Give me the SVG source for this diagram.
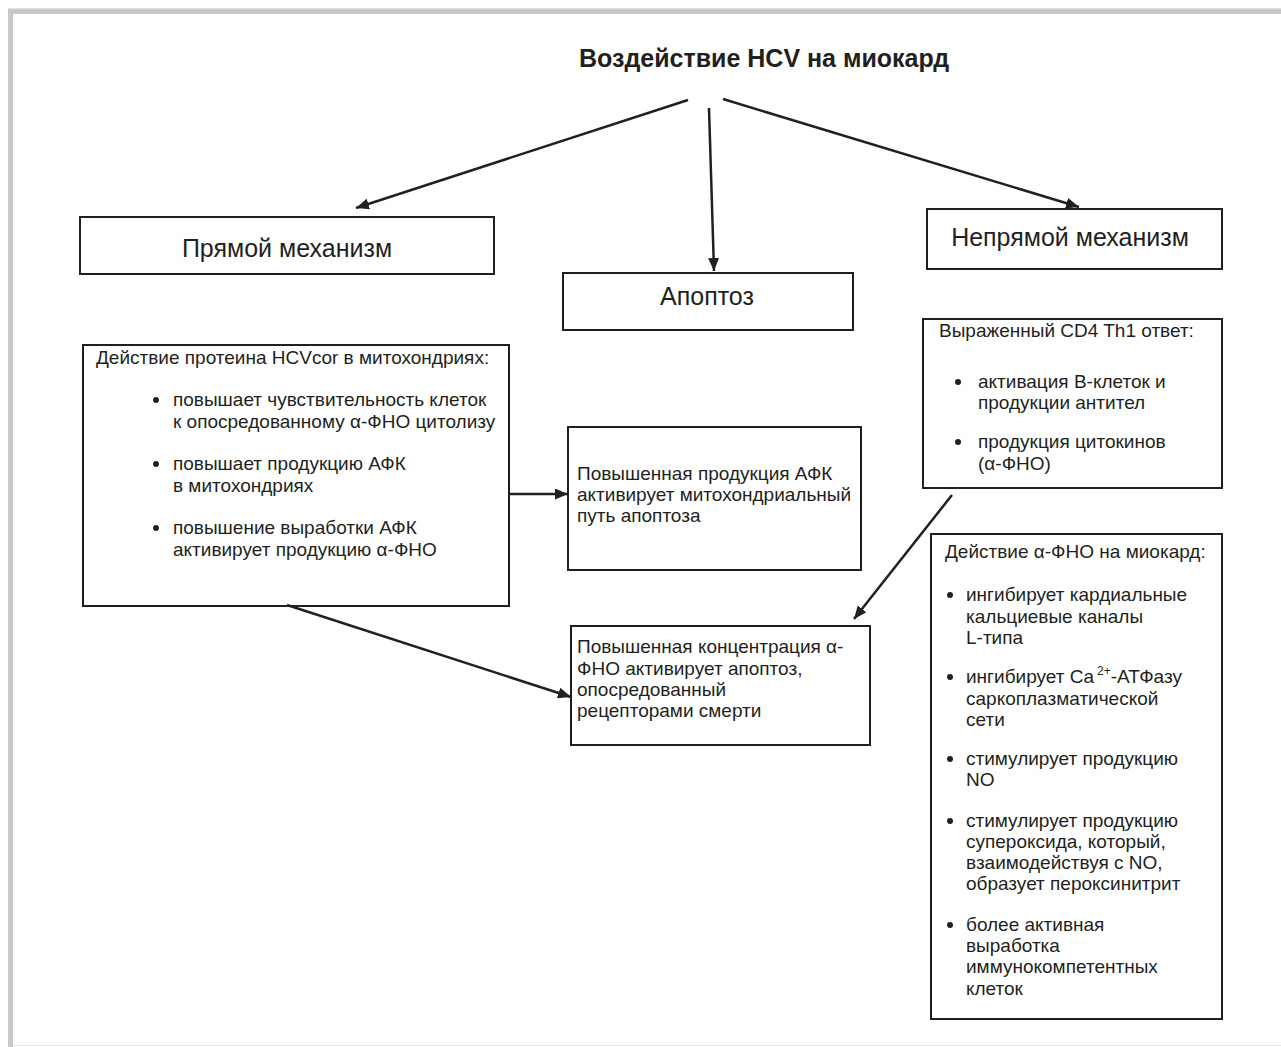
<svg xmlns="http://www.w3.org/2000/svg" width="1281" height="1047" viewBox="0 0 1281 1047">
  <style>
    .box { fill: #ffffff; stroke: #231f20; stroke-width: 2; }
    .t { font-family: "Liberation Sans", Arial, sans-serif; font-size: 19px; fill: #231f20; }
    .lbl { font-family: "Liberation Sans", Arial, sans-serif; font-size: 25px; fill: #231f20; }
    .title { font-family: "Liberation Sans", Arial, sans-serif; font-size: 25px; font-weight: bold; fill: #231f20; }
    .dot { fill: #231f20; }
    .conn { stroke: #231f20; stroke-width: 2.5; fill: none; marker-end: url(#ah); }
  </style>
  <defs>
    <marker id="ah" markerUnits="userSpaceOnUse" viewBox="0 0 13 11" markerWidth="13" markerHeight="11" refX="13" refY="5.5" orient="auto">
      <path d="M0,0 L13,5.5 L0,11 z" fill="#231f20"/>
    </marker>
  </defs>

  <!-- page background and frame -->
  <rect x="0" y="0" width="1281" height="1047" fill="#ffffff"/>
  <rect x="8" y="8" width="1273" height="1" fill="#e2e2e2"/>
  <rect x="8" y="9" width="1273" height="5" fill="#c8c8c8"/>
  <rect x="8" y="9" width="5" height="1038" fill="#c8c8c8"/>
  <rect x="13" y="1045" width="1268" height="1" fill="#e6e6e6"/>

  <!-- title -->
  <g id="title">
    <text class="title" x="764" y="67" text-anchor="middle">Воздействие HCV на миокард</text>
  </g>

  <g id="direct">
    <rect class="box" x="80" y="217" width="414" height="57"/>
    <text class="lbl" x="287" y="257" text-anchor="middle">Прямой механизм</text>
  </g>

  <g id="apoptosis">
    <rect class="box" x="563" y="273" width="290" height="57"/>
    <text class="lbl" x="707" y="305" text-anchor="middle">Апоптоз</text>
  </g>

  <g id="indirect">
    <rect class="box" x="927" y="209" width="295" height="60"/>
    <text class="lbl" x="1070" y="246" text-anchor="middle">Непрямой механизм</text>
  </g>

  <g id="hcvcor">
    <rect class="box" x="83" y="345" width="426" height="261"/>
    <text class="t" x="96" y="364">Действие протеина HCVcor в митохондриях:</text>
    <circle class="dot" cx="156" cy="400" r="3"/>
    <text class="t" x="173" y="406">повышает чувствительность клеток</text>
    <text class="t" x="173" y="428">к опосредованному α-ФНО цитолизу</text>
    <circle class="dot" cx="156" cy="464" r="3"/>
    <text class="t" x="173" y="470">повышает продукцию АФК</text>
    <text class="t" x="173" y="492">в митохондриях</text>
    <circle class="dot" cx="156" cy="528" r="3"/>
    <text class="t" x="173" y="534">повышение выработки АФК</text>
    <text class="t" x="173" y="556">активирует продукцию α-ФНО</text>
  </g>

  <g id="ros">
    <rect class="box" x="568" y="427" width="293" height="143"/>
    <text class="t" x="577" y="480">Повышенная продукция АФК</text>
    <text class="t" x="577" y="501">активирует митохондриальный</text>
    <text class="t" x="577" y="522">путь апоптоза</text>
  </g>

  <g id="tnf-conc">
    <rect class="box" x="571" y="626" width="299" height="119"/>
    <text class="t" x="577" y="653">Повышенная концентрация α-</text>
    <text class="t" x="577" y="675">ФНО активирует апоптоз,</text>
    <text class="t" x="577" y="696">опосредованный</text>
    <text class="t" x="577" y="717">рецепторами смерти</text>
  </g>

  <g id="th1">
    <rect class="box" x="923" y="319" width="299" height="169"/>
    <text class="t" x="939" y="337">Выраженный CD4 Th1 ответ:</text>
    <circle class="dot" cx="958" cy="382" r="3"/>
    <text class="t" x="978" y="388">активация В-клеток и</text>
    <text class="t" x="978" y="409">продукции антител</text>
    <circle class="dot" cx="958" cy="442" r="3"/>
    <text class="t" x="978" y="448">продукция цитокинов</text>
    <text class="t" x="978" y="470">(α-ФНО)</text>
  </g>

  <g id="tnf-myocard">
    <rect class="box" x="931" y="534" width="291" height="485"/>
    <text class="t" x="945" y="558">Действие α-ФНО на миокард:</text>
    <circle class="dot" cx="950" cy="595" r="3"/>
    <text class="t" x="966" y="601">ингибирует кардиальные</text>
    <text class="t" x="966" y="623">кальциевые каналы</text>
    <text class="t" x="966" y="644">L-типа</text>
    <circle class="dot" cx="950" cy="677" r="3"/>
    <text class="t" x="966" y="683">ингибирует Ca<tspan font-size="12" dx="3" dy="-8">2+</tspan><tspan dy="8">-АТФазу</tspan></text>
    <text class="t" x="966" y="705">саркоплазматической</text>
    <text class="t" x="966" y="726">сети</text>
    <circle class="dot" cx="950" cy="759" r="3"/>
    <text class="t" x="966" y="765">стимулирует продукцию</text>
    <text class="t" x="966" y="786">NO</text>
    <circle class="dot" cx="950" cy="821" r="3"/>
    <text class="t" x="966" y="827">стимулирует продукцию</text>
    <text class="t" x="966" y="848">супероксида, который,</text>
    <text class="t" x="966" y="869">взаимодействуя с NO,</text>
    <text class="t" x="966" y="890">образует пероксинитрит</text>
    <circle class="dot" cx="950" cy="925" r="3"/>
    <text class="t" x="966" y="931">более активная</text>
    <text class="t" x="966" y="952">выработка</text>
    <text class="t" x="966" y="973">иммунокомпетентных</text>
    <text class="t" x="966" y="995">клеток</text>
  </g>

  <!-- arrows -->
  <g id="connectors">
    <line class="conn" x1="688" y1="100" x2="356" y2="208"/>
    <line class="conn" x1="709" y1="108" x2="714" y2="271"/>
    <line class="conn" x1="723" y1="99" x2="1079" y2="207"/>
    <line class="conn" x1="509" y1="494" x2="568" y2="494"/>
    <line class="conn" x1="287" y1="605" x2="571" y2="697"/>
    <line class="conn" x1="952" y1="495" x2="854" y2="619"/>
  </g>
</svg>
